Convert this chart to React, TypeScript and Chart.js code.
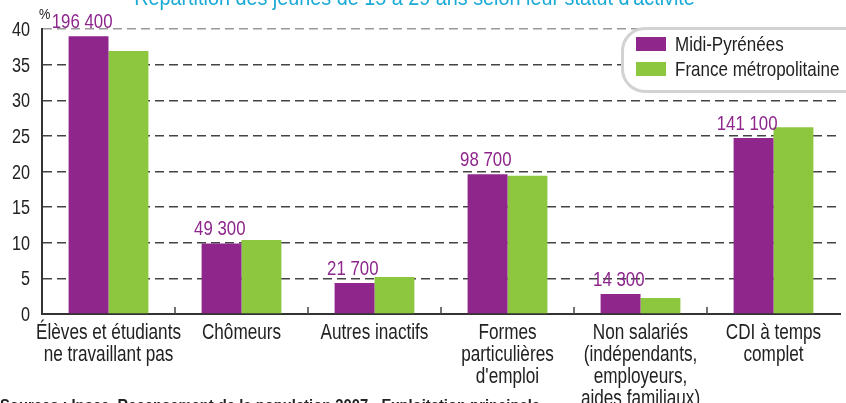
import React, { useEffect, useRef } from "react";
import { Chart, registerables } from "chart.js";

Chart.register(...registerables);

const FONT = '"Liberation Sans", Arial, Helvetica, sans-serif';

const categories: string[][] = [
  ["Élèves et étudiants", "ne travaillant pas"],
  ["Chômeurs"],
  ["Autres inactifs"],
  ["Formes", "particulières", "d'emploi"],
  ["Non salariés", "(indépendants,", "employeurs,", "aides familiaux)"],
  ["CDI à temps", "complet"],
];
const midiPyrenees = [39.0, 9.9, 4.35, 19.6, 2.8, 24.7];
const franceMetro = [36.9, 10.4, 5.2, 19.4, 2.25, 26.2];
const mpCounts = ["196 400", "49 300", "21 700", "98 700", "14 300", "141 100"];
const seriesNames = ["Midi-Pyrénées", "France métropolitaine"];
const yTicks = [0, 5, 10, 15, 20, 25, 30, 35, 40];
const PURPLE = "#8E268C";
const GREEN = "#8DC63F";
const title = "Répartition des jeunes de 15 à 29 ans selon leur statut d'activité";
const source = "Sources : Insee, Recensement de la population 2007 - Exploitation principale";

function drawText(ctx: CanvasRenderingContext2D, s: string, x: number, y: number, size: number, sx: number, align: CanvasTextAlign, color: string) {
  ctx.save();
  ctx.font = `${size}px ${FONT}`;
  ctx.fillStyle = color;
  ctx.textAlign = align;
  ctx.textBaseline = "alphabetic";
  ctx.translate(x, y);
  ctx.scale(sx, 1);
  ctx.fillText(s, 0, 0);
  ctx.restore();
}

const textPlugin = {
  id: "texts",
  afterDraw(chart: any) {
    const ctx = chart.ctx as CanvasRenderingContext2D;
    const xs = chart.scales.x;
    const ys = chart.scales.y;
    const area = chart.chartArea;
    // category boundary ticks
    ctx.save();
    ctx.strokeStyle = "#444";
    ctx.lineWidth = 1.5;
    for (let i = 1; i < categories.length; i++) {
      const x = (xs.getPixelForValue(i - 1) + xs.getPixelForValue(i)) / 2;
      ctx.beginPath();
      ctx.moveTo(x, area.bottom);
      ctx.lineTo(x, area.bottom - 7);
      ctx.stroke();
    }
    ctx.restore();
    // y tick labels
    yTicks.forEach((v) => {
      drawText(ctx, String(v), area.left - 12, ys.getPixelForValue(v) + 7, 20, 0.81, "right", "#222");
    });
    // x labels
    categories.forEach((lines, i) => {
      const cx = xs.getPixelForValue(i);
      lines.forEach((l, j) => {
        drawText(ctx, l, cx, area.bottom + 25 + j * 22, 22, 0.78, "center", "#222");
      });
    });
    // value labels
    const meta = chart.getDatasetMeta(0);
    meta.data.forEach((el: any, i: number) => {
      const right = el.x + el.width / 2;
      drawText(ctx, mpCounts[i], right + 4, el.y - 8, 21, 0.8, "right", PURPLE);
    });
  },
};

export default function App() {
  const ref = useRef<HTMLCanvasElement>(null);
  useEffect(() => {
    const chart = new Chart(ref.current!, {
      type: "bar",
      data: {
        labels: categories,
        datasets: [
          { label: seriesNames[0], data: midiPyrenees, backgroundColor: PURPLE },
          { label: seriesNames[1], data: franceMetro, backgroundColor: GREEN },
        ],
      },
      options: {
        animation: false,
        responsive: false,
        maintainAspectRatio: false,
        layout: { padding: { top: 29, right: 6, left: 0, bottom: 0 } },
        datasets: { bar: { categoryPercentage: 0.6, barPercentage: 1 } },
        plugins: { legend: { display: false }, tooltip: { enabled: false } },
        scales: {
          x: {
            grid: { display: false },
            border: { display: true, color: "#333", width: 2 },
            ticks: { display: false },
            afterFit: (s: any) => { s.height = 89; },
          },
          y: {
            min: 0,
            max: 40,
            ticks: { stepSize: 5, display: false },
            grid: {
              drawTicks: false,
              color: (c: any) => (c.tick && c.tick.value === 40 ? "#9a9a9a" : c.tick && c.tick.value === 0 ? "rgba(0,0,0,0)" : "#444"),
              lineWidth: 1.5,
            },
            border: { display: true, color: "#333", width: 2, dash: [9, 5] },
            afterFit: (s: any) => { s.width = 42; },
          },
        },
      } as any,
      plugins: [textPlugin],
    });
    return () => chart.destroy();
  }, []);

  const scaled = (sx: number): React.CSSProperties => ({ display: "inline-block", transform: `scaleX(${sx})`, transformOrigin: "left center", whiteSpace: "nowrap" });

  return (
    <div style={{ position: "fixed", left: 0, top: 0, width: 846, height: 403, overflow: "hidden", background: "#fff", fontFamily: FONT }}>
      <canvas ref={ref} width={846} height={403} style={{ position: "absolute", left: 0, top: 0 }} />
      <div style={{ position: "absolute", left: -8, width: 846, top: -13, textAlign: "center", color: "#1AAAD6", fontSize: 22, lineHeight: "22px", whiteSpace: "nowrap" }}>
        <span style={{ display: "inline-block", transform: "scaleX(0.9)", transformOrigin: "center center" }}>{title}</span>
      </div>
      <div style={{ position: "absolute", left: 39, top: 6, fontSize: 15, lineHeight: "15px", color: "#222" }}>
        <span style={scaled(0.85)}>%</span>
      </div>
      <div style={{ position: "absolute", left: 621, top: 27, width: 250, height: 60, border: "3px solid #d2d2d2", borderRadius: 24, background: "#fff" }}>
        {seriesNames.map((n, i) => (
          <React.Fragment key={n}>
            <div style={{ position: "absolute", left: 12, top: 7 + i * 25, width: 30, height: 14, background: i === 0 ? PURPLE : GREEN }} />
            <div style={{ position: "absolute", left: 51, top: 2 + i * 25, fontSize: 21, lineHeight: "24px", color: "#222" }}>
              <span style={scaled(0.81)}>{n}</span>
            </div>
          </React.Fragment>
        ))}
      </div>
      <div style={{ position: "absolute", left: 0, top: 397, fontSize: 17, lineHeight: "17px", fontWeight: "bold", color: "#222" }}>
        <span style={scaled(0.87)}>{source}</span>
      </div>
    </div>
  );
}
